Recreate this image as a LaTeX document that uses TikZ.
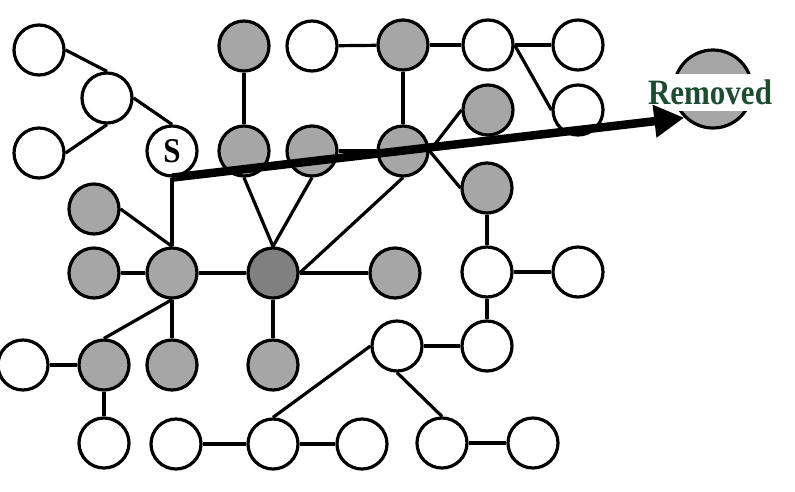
\documentclass[tikz,border=0pt]{standalone}
\usepackage{fontspec}
\setmainfont{Liberation Serif}
\usetikzlibrary{arrows.meta,positioning}
\definecolor{remgreen}{RGB}{30,76,48}

\begin{document}
\begin{tikzpicture}[x=1pt, y=-1pt, >={Triangle[length=30pt,width=31pt]},
        vert/.style={draw, circle, line width=3.2pt, minimum size=50pt, inner sep=0pt},
        free/.style={vert, fill=white},
        taken/.style={vert, fill=black!35},
        hub/.style={vert, fill=black!50},
        link/.style={line width=3.2pt}]
        \useasboundingbox (0,0) rectangle (795,491);

        \node [free] (a1) at (39,50) {};
        \node [free] (a2) at (107,98) {};
        \node [free] (a3) at (39,153) {};
        \node [free, font=\fontsize{31}{31}\selectfont\bfseries] (s) at (172,151) {\scalebox{1}[1.12]{S}};

        \node [taken] (g1) at (244,46) {};
        \node [free] (w1) at (312,46) {};
        \node [taken] (g4) at (403,45) {};
        \node [free] (w2) at (488,45) {};
        \node [free] (w3) at (578,45) {};
        \node [taken] (g5) at (488,110) {};
        \node [free] (w4) at (578,110) {};

        \node [taken] (g2) at (244,151) {};
        \node [taken] (g3) at (312,151) {};
        \node [taken] (g6) at (403,151) {};
        \node [taken] (g7) at (487,188) {};
        \node [taken] (g8) at (94,209) {};

        \node [taken] (g9) at (94,273) {};
        \node [taken] (b) at (172,273) {};
        \node [hub] (c) at (273,273) {};
        \node [taken] (g11) at (395,273) {};
        \node [free] (w5) at (487,272) {};
        \node [free] (w6) at (578,272) {};

        \node [free] (w7) at (23,365) {};
        \node [taken] (g12) at (104,365) {};
        \node [taken] (g13) at (172,365) {};
        \node [taken] (g14) at (273,365) {};
        \node [free] (w8) at (397,346) {};
        \node [free] (w9) at (487,346) {};

        \node [free] (w10) at (104,443) {};
        \node [free] (w11) at (176,444) {};
        \node [free] (w12) at (273,444) {};
        \node [free] (w13) at (362,444) {};
        \node [free] (w14) at (442,443) {};
        \node [free] (w15) at (533,443) {};

        \node [taken, minimum size=78pt] (removed) at (713,89) {};
        \node [fill=white, text=remgreen, inner xsep=1pt, minimum height=37pt,
            font=\fontsize{31}{31}\selectfont\bfseries] (remlabel) at (710,92) {\scalebox{1}[1.15]{Removed}};

        \draw [link] (a1.east) -- (a2.north);
        \draw [link] (a3.east) -- (a2.south);
        \draw [link] (a2.east) -- (s.north);
        \draw [link] (g1) -- (g2);
        \draw [link] (w1) -- (g4);
        \draw [link] (g4) -- (w2);
        \draw [link] (w2) -- (w3);
        \draw [link] (w2.east) -- (w4.west);
        \draw [link] (g4) -- (g6);
        \draw [link] (g6.east) -- (g5.west);
        \draw [link] (g6.east) -- (g7.west);
        \draw [link] (c.east) -- (g6.south);
        \draw [link] (g2.south) -- (c.north);
        \draw [link] (g3.south) -- (c.north);
        \draw [link] (g3) -- (g6);
        \draw [link] (s) -- (b);
        \draw [link] (g8.east) -- (b.north);
        \draw [link] (g9) -- (b);
        \draw [link] (b) -- (c);
        \draw [link] (c) -- (g11);
        \draw [link] (b.south) -- (g12.north);
        \draw [link] (b) -- (g13);
        \draw [link] (c) -- (g14);
        \draw [link] (w7) -- (g12);
        \draw [link] (g12) -- (w10);
        \draw [link] (w11) -- (w12);
        \draw [link] (w12) -- (w13);
        \draw [link] (w12.north) -- (w8.west);
        \draw [link] (g7) -- (w5);
        \draw [link] (w5) -- (w6);
        \draw [link] (w5) -- (w9);
        \draw [link] (w8) -- (w9);
        \draw [link] (w8.south) -- (w14.north);
        \draw [link] (w14) -- (w15);

        \draw [->, line width=8.5pt] (s.south) -- (removed.south west);
    \end{tikzpicture}
\end{document}
